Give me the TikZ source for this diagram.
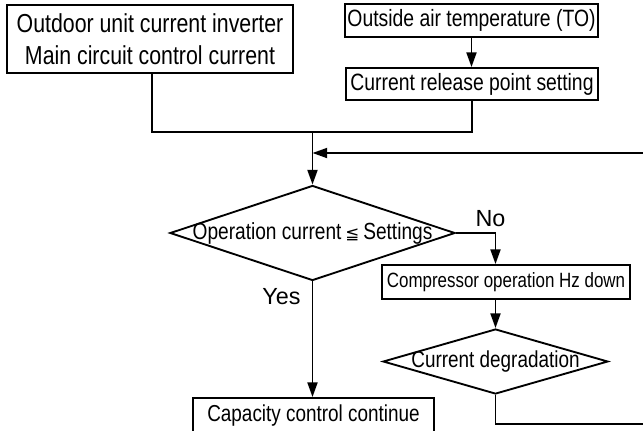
\documentclass[tikz,border=0pt]{standalone}
\usepackage{fontspec}
\setmainfont{Liberation Sans}
\newfontfamily\nar{Liberation Sans}[FakeStretch=0.82]
\newfontfamily\dejavu{DejaVu Sans}
\usetikzlibrary{shapes.geometric,arrows.meta}
\tikzset{
  boxnode/.style={draw, line width=1.4pt, inner sep=0pt, align=center},
  dianode/.style={draw, diamond, line width=1.4pt, inner sep=0pt},
  conn/.style={line width=1.4pt},
  arr/.style={conn, -{Triangle[length=11pt,width=7.5pt]}},
  lbl/.style={font=\fontsize{17.5}{20}\selectfont, inner sep=0pt}
}
\begin{document}
\begin{tikzpicture}[x=0.75pt,y=-0.75pt]
\useasboundingbox (0,0) rectangle (643,430);
\fill[white] (0,0) rectangle (643,430);
\clip (0,0) rectangle (643,430);
% boxes
\node[boxnode, minimum width=214.5pt, minimum height=51pt,
  font=\nar\fontsize{19.5}{24}\selectfont] (b1) at (150,39)
  {Outdoor unit current inverter\\Main circuit control current};
\node[boxnode, minimum width=189.75pt, minimum height=24.75pt,
  font=\nar\fontsize{17.7}{20}\selectfont] (b2) at (471.5,20.5)
  {Outside air temperature (TO)};
\node[boxnode, minimum width=189pt, minimum height=24pt,
  font=\nar\fontsize{17.7}{20}\selectfont] (b3) at (472,84)
  {Current release point setting};
\node[boxnode, minimum width=186pt, minimum height=25.5pt,
  font=\nar\fontsize{15.5}{18}\selectfont] (b4) at (506,282)
  {Compressor operation Hz down};
\node[boxnode, minimum width=180.75pt, minimum height=27pt,
  font=\nar\fontsize{17.3}{20}\selectfont] (b5) at (313.5,416)
  {Capacity control continue};
% diamonds
\node[dianode, minimum width=213.75pt, minimum height=71.25pt] (d1) at (312.5,233) {};
\node[font=\nar\fontsize{17.5}{20}\selectfont, inner sep=0pt] (t1) at (312.5,233)
  {Operation current\,{\dejavu\fontsize{12.5}{12}\selectfont ≦}\,Settings};
\node[dianode, minimum width=168.75pt, minimum height=48.75pt] (d2) at (495.5,361.5) {};
\node[font=\nar\fontsize{17.3}{20}\selectfont, inner sep=0pt] (t2) at (495.5,361.5)
  {Current degradation};
% labels
\node[lbl] (yes) at (281.5,297) {Yes};
\node[lbl] (no) at (490.5,219) {No};
% junction coordinates
\coordinate (jn) at (312.5,132);
\coordinate (jn2) at (312.5,153);
\coordinate (lp1) at (495.5,424);
\coordinate (lp2) at (660,424);
\coordinate (lp3) at (660,153);
% connectors
\draw[conn] (b1.south -| 152,0) |- (b3.south |- jn) -- (b3.south);
\draw[arr] (b2.south) -- (b2.south |- b3.north);
\draw[arr] (jn) -- (d1.north);
\draw[arr] (d1.east) -| (d2.north |- b4.north);
\draw[arr] (d2.north |- b4.south) -- (d2.north);
\draw[arr] (d1.south) -- (d1.south |- b5.north);
\draw[arr] (d2.south) -- (lp1) -- (lp2) -- (lp3) -- (jn2);
\end{tikzpicture}
\end{document}
